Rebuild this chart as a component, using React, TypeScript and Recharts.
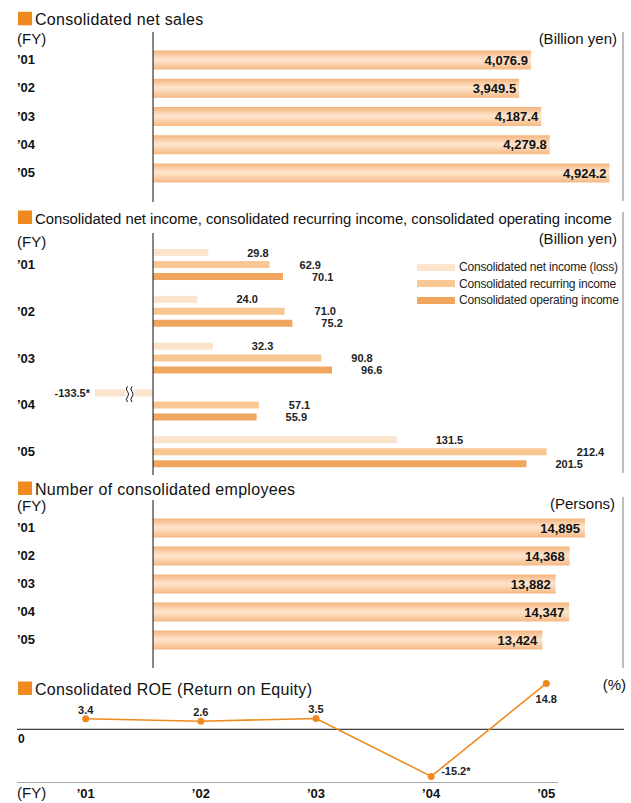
import React from "react";
import { BarChart, Bar, XAxis, YAxis, LabelList, ReferenceLine, Legend, LineChart, Line } from "recharts";

// values
const YEARS = ["’01", "’02", "’03", "’04", "’05"];
const NET_SALES = [4076.9, 3949.5, 4187.4, 4279.8, 4924.2];
const NET_INCOME = [29.8, 24.0, 32.3, -133.5, 131.5];
const RECURRING_INCOME = [62.9, 71.0, 90.8, 57.1, 212.4];
const OPERATING_INCOME = [70.1, 75.2, 96.6, 55.9, 201.5];
const EMPLOYEES = [14895, 14368, 13882, 14347, 13424];
const ROE = [3.4, 2.6, 3.5, -15.2, 14.8];

const SALES_DOMAIN = [0, 5070];
const INCOME_DOMAIN = [-31.3, 253.6]; // left side is cut, the big loss is drawn broken
const EMPLOYEE_DOMAIN = [0, 16205];
const ROE_DOMAIN = [-17.2, 17];
const INCOME_KEYS = ["net", "recurring", "operating"];

const FONT = "'Liberation Sans', Arial, Helvetica, sans-serif";
const ORANGE = "#EF8A1F";
const NET_COLOR = "#FCE3CB";
const RECURRING_COLOR = "#F9C794";
const OPERATING_COLOR = "#F1A65F";

const salesData = YEARS.map((year, i) => ({ year, value: NET_SALES[i] }));
const incomeData = YEARS.map((year, i) => ({
  year,
  net: NET_INCOME[i],
  recurring: RECURRING_INCOME[i],
  operating: OPERATING_INCOME[i],
}));
const employeeData = YEARS.map((year, i) => ({ year, value: EMPLOYEES[i] }));
const roeData = YEARS.map((year, i) => ({ year, roe: ROE[i] }));

const fmt1 = (v: number) => v.toLocaleString("en-US", { minimumFractionDigits: 1, maximumFractionDigits: 1 });
const fmt0 = (v: number) => v.toLocaleString("en-US");

function YearTick(props: any) {
  const { y, payload } = props;
  return (
    <text x={17} y={y} dy={4.5} fontSize={13} fontWeight="bold" fill="#111" fontFamily={FONT}>
      {payload.value}
    </text>
  );
}

function PeachGradient() {
  return (
    <defs>
      <linearGradient id="peach" x1="0" y1="0" x2="0" y2="1">
        <stop offset="0%" stopColor="#F4B37B" />
        <stop offset="45%" stopColor="#FDE4CC" />
        <stop offset="60%" stopColor="#FCDDBF" />
        <stop offset="100%" stopColor="#F5B883" />
      </linearGradient>
    </defs>
  );
}

// net income bar; a negative value is drawn cut at the left edge with a break mark
function NetIncomeShape(props: any) {
  const { x, y, width, height, fill, payload } = props;
  const v = payload.net;
  const left = Math.min(x, x + width);
  const w = Math.abs(width);
  if (v >= 0) return <rect x={left} y={y} width={w} height={height} fill={fill} />;
  const zero = left + w;
  const perUnit = w / Math.abs(v);
  const start = zero + INCOME_DOMAIN[0] * perUnit;
  const gx = zero - 28;
  const wave = (sx: number) =>
    `M${sx},${y - 3} q-2.4,2.6 0,5.2 q2.4,2.6 0,5.2 q-2.4,2.6 0,5.2`;
  return (
    <g>
      <rect x={start} y={y} width={zero - start} height={height} fill={fill} />
      <rect x={gx} y={y - 1} width={10} height={height + 2} fill="#fff" />
      <path d={wave(gx + 2.5)} stroke="#111" strokeWidth={1} fill="none" />
      <path d={wave(gx + 7)} stroke="#111" strokeWidth={1} fill="none" />
    </g>
  );
}

function incomeLabel(offset: number) {
  return (props: any) => {
    const { x, y, width, height, value } = props;
    const v = Number(value);
    const left = Math.min(x, x + width);
    const w = Math.abs(width);
    const cy = y + height / 2;
    if (v < 0) {
      const zero = left + w;
      const start = zero + INCOME_DOMAIN[0] * (w / Math.abs(v));
      return (
        <text x={start - 5} y={cy} dy={4} textAnchor="end" fontSize={11} fontWeight="bold" fill="#222" fontFamily={FONT}>
          {fmt1(v) + "*"}
        </text>
      );
    }
    return (
      <text x={left + w + offset} y={cy} dy={4} textAnchor="start" fontSize={11} fontWeight="bold" fill="#222" fontFamily={FONT}>
        {fmt1(v)}
      </text>
    );
  };
}

function IncomeLegend(props: any) {
  const payload = props.payload ?? [];
  const items = INCOME_KEYS.map((k) => payload.find((p: any) => p.dataKey === k)).filter(Boolean);
  return (
    <div style={{ fontFamily: FONT, fontSize: 12, color: "#222" }}>
      {items.map((item: any) => (
        <div key={item.value} style={{ display: "flex", alignItems: "center", height: 16.5 }}>
          <span style={{ display: "inline-block", width: 38, height: 7, background: item.color, marginRight: 4 }} />
          <span style={{ letterSpacing: -0.2, whiteSpace: "nowrap" }}>{item.value}</span>
        </div>
      ))}
    </div>
  );
}

function RoeLabel(props: any) {
  const { x, y, value } = props;
  const v = Number(value);
  const top = Math.max(...ROE);
  let tx = x, ty = y - 5, anchor: any = "middle";
  if (v < 0) { tx = x + 10; ty = y - 1; anchor = "start"; }
  else if (v === top) { ty = y + 20; }
  return (
    <text x={tx} y={ty} textAnchor={anchor} fontSize={11} fontWeight="bold" fill="#222" fontFamily={FONT}>
      {fmt1(v) + (v < 0 ? "*" : "")}
    </text>
  );
}

function Title({ text, base, size = 16, spacing = 0.3 }: { text: string; base: number; size?: number; spacing?: number }) {
  return (
    <g>
      <rect x={18} y={base - 13.5} width={14} height={13.5} fill={ORANGE} />
      <text x={35} y={base} fontSize={size} letterSpacing={spacing} fill="#111" fontFamily={FONT}>{text}</text>
    </g>
  );
}

const abs = (left: number, top: number): React.CSSProperties => ({ position: "absolute", left, top });

export default function App() {
  return (
    <div style={{ position: "absolute", left: 0, top: 0, width: 631, height: 803, background: "#fff", fontFamily: FONT }}>
      {/* frame lines */}
      <div style={{ ...abs(622, 32), width: 2, height: 169, background: "#BDBDBD" }} />
      <div style={{ ...abs(622, 212), width: 2, height: 261, background: "#BDBDBD" }} />
      <div style={{ ...abs(622, 497), width: 2, height: 171, background: "#BDBDBD" }} />
      <div style={{ ...abs(17, 782), width: 541, height: 1, background: "#AAAAAA" }} />

      <svg width={631} height={803} style={{ ...abs(0, 0), pointerEvents: "none" }}>
        <Title text="Consolidated net sales" base={25.3} />
        <text x={17} y={44} fontSize={15} fill="#111">(FY)</text>
        <text x={617} y={44} fontSize={15} fill="#111" textAnchor="end">(Billion yen)</text>

        <Title text="Consolidated net income, consolidated recurring income, consolidated operating income" base={224}
          size={14.9} spacing={-0.05} />
        <text x={17} y={247} fontSize={15} fill="#111">(FY)</text>
        <text x={617} y={244} fontSize={15} fill="#111" textAnchor="end">(Billion yen)</text>

        <Title text="Number of consolidated employees" base={495} />
        <text x={17} y={511} fontSize={15} fill="#111">(FY)</text>
        <text x={615} y={509} fontSize={15} fill="#111" textAnchor="end">(Persons)</text>

        <Title text="Consolidated ROE (Return on Equity)" base={695} />
        <text x={626} y={690} fontSize={15} fill="#111" textAnchor="end">(%)</text>
        <text x={17} y={798} fontSize={15} fill="#111">(FY)</text>
      </svg>

      {/* net sales */}
      <div style={abs(0, 32)}>
        <BarChart width={631} height={170} data={salesData} layout="vertical" margin={{ top: 0, right: 8, bottom: 0, left: 0 }}>
          <PeachGradient />
          <XAxis type="number" domain={SALES_DOMAIN} hide />
          <YAxis type="category" dataKey="year" width={153} axisLine={{ stroke: "#111" }} tickLine={false}
            tick={(p: any) => <YearTick {...p} />} padding={{ top: 13.6, bottom: 15.4 }} />
          <Bar dataKey="value" fill="url(#peach)" barSize={19} isAnimationActive={false}>
            <LabelList dataKey="value" position="insideRight" offset={3} formatter={(v: any) => fmt1(Number(v))}
              style={{ fontSize: 13, fontWeight: "bold", fill: "#111", fontFamily: FONT }} />
          </Bar>
        </BarChart>
      </div>

      {/* incomes */}
      <div style={abs(0, 233)}>
        <BarChart width={631} height={242} data={incomeData} layout="vertical" margin={{ top: 0, right: 8, bottom: 0, left: 0 }}
          barGap={5}>
          <XAxis type="number" domain={INCOME_DOMAIN} allowDataOverflow hide />
          <YAxis type="category" dataKey="year" width={95} axisLine={false} tickLine={false}
            tick={(p: any) => <YearTick {...p} />} padding={{ top: 8, bottom: 0 }} />
          <ReferenceLine x={0} stroke="#111" strokeWidth={1} />
          <Legend layout="vertical" align="center" verticalAlign="middle" content={(p: any) => <IncomeLegend {...p} />}
            wrapperStyle={{ top: 26, left: 417, width: 214 }} />
          <Bar dataKey="net" name="Consolidated net income (loss)" fill={NET_COLOR} barSize={7}
            shape={(p: any) => <NetIncomeShape {...p} />} isAnimationActive={false}>
            <LabelList dataKey="net" content={incomeLabel(39)} />
          </Bar>
          <Bar dataKey="recurring" name="Consolidated recurring income" fill={RECURRING_COLOR} barSize={7} isAnimationActive={false}>
            <LabelList dataKey="recurring" content={incomeLabel(30)} />
          </Bar>
          <Bar dataKey="operating" name="Consolidated operating income" fill={OPERATING_COLOR} barSize={7} isAnimationActive={false}>
            <LabelList dataKey="operating" content={incomeLabel(29)} />
          </Bar>
        </BarChart>
      </div>

      {/* employees */}
      <div style={abs(0, 500)}>
        <BarChart width={631} height={168} data={employeeData} layout="vertical" margin={{ top: 0, right: 8, bottom: 0, left: 0 }}>
          <PeachGradient />
          <XAxis type="number" domain={EMPLOYEE_DOMAIN} hide />
          <YAxis type="category" dataKey="year" width={153} axisLine={{ stroke: "#111" }} tickLine={false}
            tick={(p: any) => <YearTick {...p} />} padding={{ top: 13.5, bottom: 14.5 }} />
          <Bar dataKey="value" fill="url(#peach)" barSize={19} isAnimationActive={false}>
            <LabelList dataKey="value" position="insideRight" offset={5} formatter={(v: any) => fmt0(Number(v))}
              style={{ fontSize: 13, fontWeight: "bold", fill: "#111", fontFamily: FONT }} />
          </Bar>
        </BarChart>
      </div>

      {/* ROE */}
      <div style={abs(0, 660)}>
        <LineChart width={631} height={143} data={roeData} margin={{ top: 16.6, right: 7, bottom: 0, left: 17 }}>
          <XAxis dataKey="year" height={20.4} axisLine={false} tickLine={false} tickSize={6} tickMargin={0}
            padding={{ left: 68.7, right: 77.7 }} interval={0}
            tick={{ fontSize: 13, fontWeight: "bold", fill: "#111", fontFamily: FONT }} />
          <YAxis domain={ROE_DOMAIN} hide />
          <ReferenceLine y={0} stroke="#111" strokeWidth={1}
            label={(p: any) => (
              <text x={p.viewBox.x + 1} y={p.viewBox.y + 14} fontSize={12} fontWeight="bold" fill="#111" fontFamily={FONT}>0</text>
            )} />
          <Line dataKey="roe" stroke={ORANGE} strokeWidth={1.6} isAnimationActive={false}
            dot={{ r: 3.5, fill: ORANGE, stroke: ORANGE, strokeWidth: 0 }}>
            <LabelList dataKey="roe" content={(p: any) => <RoeLabel {...p} />} />
          </Line>
        </LineChart>
      </div>
    </div>
  );
}
